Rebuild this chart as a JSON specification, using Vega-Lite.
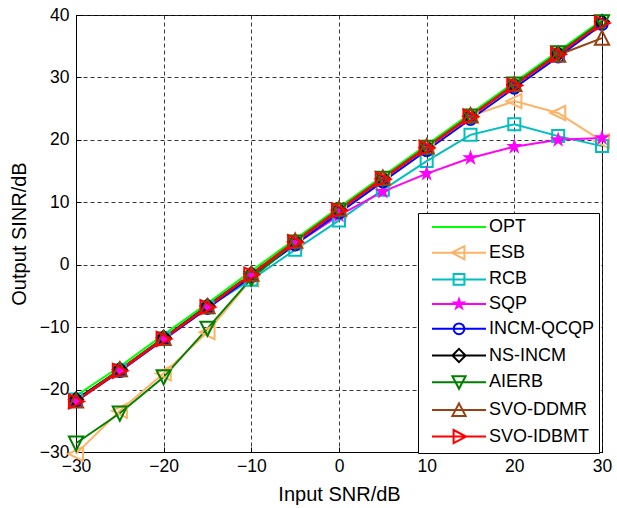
{
  "$schema": "https://vega.github.io/schema/vega-lite/v6.json",
  "width": 526,
  "height": 437,
  "autosize": {"type": "none"},
  "padding": {"left": 76, "top": 15, "right": 15, "bottom": 56},
  "background": "white",
  "config": {
    "font": "Liberation Sans",
    "view": {"stroke": "black", "strokeWidth": 1},
    "axis": {
      "domainColor": "black",
      "domainWidth": 1,
      "tickColor": "black",
      "tickSize": -5,
      "labelColor": "black",
      "labelFontSize": 17.5,
      "labelFlush": false,
      "labelOverlap": false,
      "titleColor": "black",
      "titleFontSize": 20,
      "titleFontWeight": "normal",
      "grid": true,
      "gridColor": "#222222",
      "gridDash": [4, 3],
      "gridWidth": 1,
      "gridOpacity": 0.9
    }
  },
  "data": {
    "values": [
      {"snr": -30, "OPT": -21.0, "ESB": -30.3, "RCB": -21.6, "SQP": -21.7, "INCM-QCQP": -21.9, "NS-INCM": -21.6, "AIERB": -28.6, "SVO-DDMR": -21.8, "SVO-IDBMT": -21.9},
      {"snr": -25, "OPT": -16.3, "ESB": -23.4, "RCB": -16.9, "SQP": -16.9, "INCM-QCQP": -17.1, "NS-INCM": -16.8, "AIERB": -23.8, "SVO-DDMR": -16.8, "SVO-IDBMT": -17.0},
      {"snr": -20, "OPT": -11.2, "ESB": -17.4, "RCB": -11.8, "SQP": -11.8, "INCM-QCQP": -12.0, "NS-INCM": -11.7, "AIERB": -18.0, "SVO-DDMR": -11.8, "SVO-IDBMT": -11.9},
      {"snr": -15, "OPT": -6.2, "ESB": -10.8, "RCB": -6.8, "SQP": -6.8, "INCM-QCQP": -7.0, "NS-INCM": -6.6, "AIERB": -10.2, "SVO-DDMR": -6.7, "SVO-IDBMT": -6.8},
      {"snr": -10, "OPT": -1.0, "ESB": -2.3, "RCB": -2.4, "SQP": -1.8, "INCM-QCQP": -1.9, "NS-INCM": -1.5, "AIERB": -2.2, "SVO-DDMR": -1.5, "SVO-IDBMT": -1.6},
      {"snr": -5, "OPT": 4.1, "ESB": 3.6, "RCB": 2.4, "SQP": 3.3, "INCM-QCQP": 3.2, "NS-INCM": 3.7, "AIERB": 3.6, "SVO-DDMR": 3.8, "SVO-IDBMT": 3.6},
      {"snr": 0, "OPT": 9.2, "ESB": 8.7, "RCB": 7.1, "SQP": 7.9, "INCM-QCQP": 8.3, "NS-INCM": 8.8, "AIERB": 8.7, "SVO-DDMR": 8.9, "SVO-IDBMT": 8.7},
      {"snr": 5, "OPT": 14.2, "ESB": 13.7, "RCB": 12.0, "SQP": 11.7, "INCM-QCQP": 13.3, "NS-INCM": 13.8, "AIERB": 13.8, "SVO-DDMR": 13.9, "SVO-IDBMT": 13.7},
      {"snr": 10, "OPT": 19.2, "ESB": 18.7, "RCB": 16.6, "SQP": 14.6, "INCM-QCQP": 18.3, "NS-INCM": 18.8, "AIERB": 18.8, "SVO-DDMR": 18.9, "SVO-IDBMT": 18.7},
      {"snr": 15, "OPT": 24.2, "ESB": 23.8, "RCB": 20.8, "SQP": 17.1, "INCM-QCQP": 23.3, "NS-INCM": 23.8, "AIERB": 23.8, "SVO-DDMR": 23.9, "SVO-IDBMT": 23.7},
      {"snr": 20, "OPT": 29.2, "ESB": 26.2, "RCB": 22.5, "SQP": 18.9, "INCM-QCQP": 28.3, "NS-INCM": 28.8, "AIERB": 28.9, "SVO-DDMR": 28.9, "SVO-IDBMT": 28.7},
      {"snr": 25, "OPT": 34.2, "ESB": 24.3, "RCB": 20.6, "SQP": 20.0, "INCM-QCQP": 33.3, "NS-INCM": 33.8, "AIERB": 33.9, "SVO-DDMR": 33.6, "SVO-IDBMT": 33.7},
      {"snr": 30, "OPT": 39.2, "ESB": 19.8, "RCB": 19.0, "SQP": 20.3, "INCM-QCQP": 38.5, "NS-INCM": 38.9, "AIERB": 38.9, "SVO-DDMR": 36.3, "SVO-IDBMT": 38.7}
    ]
  },
  "transform": [
    {"fold": ["OPT", "ESB", "RCB", "SQP", "INCM-QCQP", "NS-INCM", "AIERB", "SVO-DDMR", "SVO-IDBMT"], "as": ["series", "sinr"]}
  ],
  "encoding": {
    "x": {
      "field": "snr",
      "type": "quantitative",
      "scale": {"domain": [-30, 30], "nice": false, "zero": false},
      "axis": {"values": [-30, -20, -10, 0, 10, 20, 30], "title": "Input SNR/dB", "labelPadding": 10, "titleY": 42, "titleBaseline": "middle"}
    },
    "y": {
      "field": "sinr",
      "type": "quantitative",
      "scale": {"domain": [-30, 40], "nice": false, "zero": false},
      "axis": {"values": [-30, -20, -10, 0, 10, 20, 30, 40], "title": "Output SINR/dB", "labelPadding": 12, "titleX": -57, "titleY": 218.5, "titleBaseline": "middle"}
    }
  },
  "layer": [
    {
      "mark": {"type": "line", "strokeWidth": 2},
      "encoding": {
        "color": {
          "field": "series",
          "type": "nominal",
          "scale": {
            "domain": ["OPT", "ESB", "RCB", "SQP", "INCM-QCQP", "NS-INCM", "AIERB", "SVO-DDMR", "SVO-IDBMT"],
            "range": ["#00FF00", "#FFB266", "#00BFBF", "#FF00FF", "#0000FF", "#000000", "#008000", "#994010", "#FF0000"]
          },
          "legend": null
        }
      }
    },
    {
      "transform": [{"filter": "datum.series !== 'OPT'"}],
      "mark": {"type": "point", "filled": false, "strokeWidth": 2, "size": 200, "opacity": 1},
      "encoding": {
        "color": {
          "field": "series",
          "type": "nominal",
          "scale": {
            "domain": ["ESB", "RCB", "SQP", "INCM-QCQP", "NS-INCM", "AIERB", "SVO-DDMR", "SVO-IDBMT"],
            "range": ["#FFB266", "#00BFBF", "#FF00FF", "#0000FF", "#000000", "#008000", "#994010", "#FF0000"]
          },
          "legend": null
        },
        "shape": {
          "field": "series",
          "type": "nominal",
          "scale": {
            "domain": ["ESB", "RCB", "SQP", "INCM-QCQP", "NS-INCM", "AIERB", "SVO-DDMR", "SVO-IDBMT"],
            "range": [
              "M-1.1,0L1,-1L1,1Z",
              "M-0.85,-0.85H0.85V0.85H-0.85Z",
              "M0,-0.75L0.17,-0.23L0.71,-0.23L0.27,0.09L0.44,0.61L0,0.29L-0.44,0.61L-0.27,0.09L-0.71,-0.23L-0.17,-0.23Z",
              "M-0.8,0A0.8,0.8 0 1,0 0.8,0A0.8,0.8 0 1,0 -0.8,0Z",
              "M0,-1L1,0L0,1L-1,0Z",
              "M-1,-0.95H1L0,1.05Z",
              "M-1,0.95H1L0,-1.05Z",
              "M1.1,0L-1,-1L-1,1Z"
            ]
          },
          "legend": null
        },
        "fill": {
          "condition": {"test": "datum.series === 'SQP'", "value": "#FF00FF"},
          "value": "transparent"
        }
      }
    },
    {
      "mark": {"type": "point", "filled": false, "opacity": 0, "size": 144},
      "encoding": {
        "color": {
          "field": "series",
          "type": "nominal",
          "scale": {
            "domain": ["OPT", "ESB", "RCB", "SQP", "INCM-QCQP", "NS-INCM", "AIERB", "SVO-DDMR", "SVO-IDBMT"],
            "range": ["#00FF00", "#FFB266", "#00BFBF", "#FF00FF", "#0000FF", "#000000", "#008000", "#994010", "#FF0000"]
          },
          "legend": {
            "orient": "none",
            "legendX": 342,
            "legendY": 198,
            "title": null,
            "strokeColor": "black",
            "fillColor": "white",
            "padding": 5,
            "labelFontSize": 18,
            "labelColor": "black",
            "labelOffset": 21,
            "rowPadding": 5.7,
            "symbolOffset": 27,
            "symbolSize": 144,
            "symbolStrokeWidth": 2,
            "symbolOpacity": 1,
            "encode": {
              "symbols": {
                "update": {
                  "fill": [{"test": "datum.value === 'SQP'", "value": "#FF00FF"}, {"value": "transparent"}]
                }
              }
            }
          }
        },
        "shape": {
          "field": "series",
          "type": "nominal",
          "scale": {
            "domain": ["OPT", "ESB", "RCB", "SQP", "INCM-QCQP", "NS-INCM", "AIERB", "SVO-DDMR", "SVO-IDBMT"],
            "range": [
              "M-4.5,0H4.5",
              "M-4.5,0H4.5M-1.2,0L0.9,-1.1L0.9,1.1Z",
              "M-4.5,0H4.5M-0.9,-0.9H0.9V0.9H-0.9Z",
              "M-4.5,0H4.5M0,-0.8L0.18,-0.25L0.76,-0.25L0.29,0.1L0.47,0.65L0,0.31L-0.47,0.65L-0.29,0.1L-0.76,-0.25L-0.18,-0.25Z",
              "M-4.5,0H4.5M-0.9,0A0.9,0.9 0 1,0 0.9,0A0.9,0.9 0 1,0 -0.9,0Z",
              "M-4.5,0H4.5M0,-1.1L1.1,0L0,1.1L-1.1,0Z",
              "M-4.5,0H4.5M-1.1,-1H1.1L0,1.1Z",
              "M-4.5,0H4.5M-1.1,1H1.1L0,-1.1Z",
              "M-4.5,0H4.5M1.2,0L-0.9,-1.1L-0.9,1.1Z"
            ]
          },
          "legend": {
            "orient": "none",
            "legendX": 342,
            "legendY": 198,
            "title": null,
            "strokeColor": "black",
            "fillColor": "white",
            "padding": 5,
            "labelFontSize": 18,
            "labelColor": "black",
            "labelOffset": 21,
            "rowPadding": 5.7,
            "symbolOffset": 27,
            "symbolSize": 144,
            "symbolStrokeWidth": 2,
            "symbolOpacity": 1
          }
        }
      }
    }
  ],
  "resolve": {"scale": {"color": "independent", "shape": "independent"}}
}
